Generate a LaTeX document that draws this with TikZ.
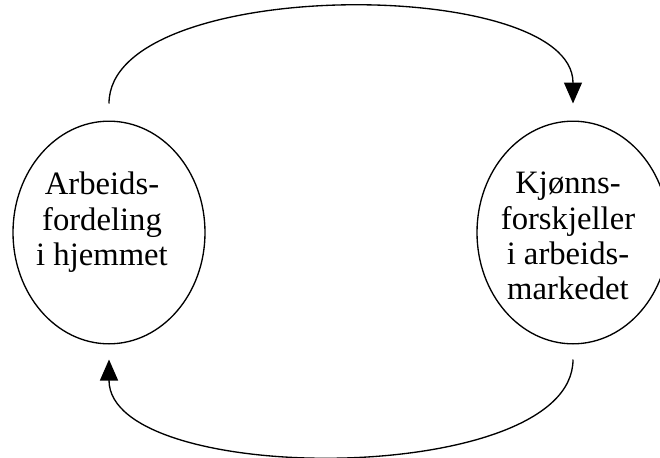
\documentclass[tikz,border=0pt]{standalone}
\usepackage{fontspec}
\setmainfont{Liberation Serif}
\usetikzlibrary{arrows.meta,shapes.geometric}
\begin{document}
\begin{tikzpicture}[x=0.75pt,y=0.75pt,yscale=-1,xscale=1,
  ring/.style={draw,ellipse,line width=1pt,minimum width=144pt,minimum height=167pt,inner sep=0pt},
  lbl/.style={anchor=north,inner sep=0pt,align=center,font=\fontsize{24.5}{26.5}\selectfont},
  flow/.style={line width=1pt,-{Triangle[length=15.75pt,width=13.5pt]}}]
\useasboundingbox (0,0) rectangle (660,457);
\node[ring] (home) at (109,232.5) {};
\node[ring] (market) at (573,232.5) {};
\node[lbl] (homelbl) at (102,172) {Arbeids-\\fordeling\\i hjemmet};
\node[lbl] (marketlbl) at (568,172) {Kjønns-\\forskjeller\\i arbeids-\\markedet};
\draw[flow] ([yshift=-12.75pt]home.north) .. controls +(0,-128) and +(0,-128) .. ([yshift=-12.75pt]market.north);
\draw[flow] ([yshift=11.25pt]market.south) .. controls +(0,128) and +(0,128) .. ([yshift=11.25pt]home.south);
\end{tikzpicture}
\end{document}
